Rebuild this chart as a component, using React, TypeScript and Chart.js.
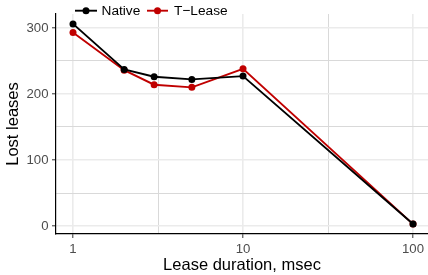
import React, { useEffect, useRef } from "react";
import { Chart, registerables } from "chart.js";

Chart.register(...registerables);

const durations = [1, 2, 3, 5, 10, 100];
const nativeLost = [306, 237, 226, 222, 227, 3];
const tleaseLost = [293, 236, 214, 210, 238, 3];
const seriesNames = ["Native", "T\u2212Lease"];
const seriesColors = ["#000000", "#c00000"];
const xTickValues = [1, 3.1623, 10, 31.623, 100];
const xMajorLabels = [1, 10, 100];
const yTickValues = [0, 50, 100, 150, 200, 250, 300];
const yMajorLabels = [0, 100, 200, 300];

const FONT = "'Liberation Sans', Arial, Helvetica, sans-serif";

const isMajorX = (v: number) => xMajorLabels.some((m) => Math.abs(m - v) < 1e-6);
const isMajorY = (v: number) => yMajorLabels.includes(v);

const legendPlugin = {
  id: "ggLegend",
  afterDraw(chart: any) {
    const ctx = chart.ctx;
    ctx.save();
    const y = 10.7;
    const items = [
      { x0: 75, x1: 97, tx: 101.5 },
      { x0: 147, x1: 168, tx: 174 },
    ];
    items.forEach((it, i) => {
      ctx.strokeStyle = seriesColors[i];
      ctx.fillStyle = seriesColors[i];
      ctx.lineWidth = 1.9;
      ctx.beginPath();
      ctx.moveTo(it.x0, y);
      ctx.lineTo(it.x1, y);
      ctx.stroke();
      ctx.beginPath();
      ctx.arc((it.x0 + it.x1) / 2, y, 3.5, 0, Math.PI * 2);
      ctx.fill();
      ctx.fillStyle = "#000000";
      ctx.font = `13.7px ${FONT}`;
      ctx.textBaseline = "middle";
      ctx.textAlign = "left";
      ctx.fillText(seriesNames[i], it.tx, y + 0.3);
    });
    ctx.restore();
  },
};

export default function App() {
  const ref = useRef<HTMLCanvasElement | null>(null);
  useEffect(() => {
    if (!ref.current) return;
    const mk = (vals: number[], i: number) => ({
      label: seriesNames[i],
      data: durations.map((d, k) => ({ x: d, y: vals[k] })),
      borderColor: seriesColors[i],
      backgroundColor: seriesColors[i],
      pointBackgroundColor: seriesColors[i],
      pointBorderColor: seriesColors[i],
      borderWidth: 1.9,
      pointRadius: 3.5,
      pointBorderWidth: 0,
      tension: 0,
    });
    const chart = new Chart(ref.current, {
      type: "line",
      data: { datasets: [mk(nativeLost, 0), mk(tleaseLost, 1)] },
      options: {
        animation: false,
        responsive: false,
        maintainAspectRatio: false,
        layout: { autoPadding: false, padding: { top: 14, left: 0, right: 0, bottom: 0 } },
        plugins: { legend: { display: false }, tooltip: { enabled: false } },
        scales: {
          x: {
            type: "logarithmic",
            min: Math.pow(10, -0.1),
            max: Math.pow(10, 2.088),
            afterBuildTicks: (scale: any) => {
              scale.ticks = xTickValues.map((v) => ({ value: v }));
            },
            afterFit: (scale: any) => {
              scale.height = 41;
              scale.paddingLeft = 0;
              scale.paddingRight = 0;
            },
            ticks: {
              autoSkip: false,
              maxRotation: 0,
              padding: 3,
              color: "#4d4d4d",
              font: { family: FONT, size: 13.2 },
              callback: (v: any) => (isMajorX(Number(v)) ? String(Math.round(Number(v))) : ""),
            },
            grid: {
              color: (c: any) => (isMajorX(c.tick?.value) ? "#ebebeb" : "#d9d9d9"),
              lineWidth: (c: any) => (isMajorX(c.tick?.value) ? 1.6 : 1),
              tickColor: (c: any) => (isMajorX(c.tick?.value) ? "#333333" : "rgba(0,0,0,0)"),
              tickLength: 4,
              tickWidth: 1,
            },
            border: { display: true, color: "#000000", width: 1.2 },
            title: {
              display: true,
              text: "Lease duration, msec",
              color: "#000000",
              font: { family: FONT, size: 16.5 },
              padding: { top: 0, bottom: 0 },
            },
          },
          y: {
            type: "linear",
            min: -12,
            max: 321,
            afterBuildTicks: (scale: any) => {
              scale.ticks = yTickValues.map((v) => ({ value: v }));
            },
            afterFit: (scale: any) => {
              scale.width = 56;
              scale.paddingTop = 0;
              scale.paddingBottom = 0;
            },
            ticks: {
              autoSkip: false,
              padding: 3.5,
              color: "#4d4d4d",
              font: { family: FONT, size: 13.2 },
              callback: (v: any) => (isMajorY(Number(v)) ? String(v) : ""),
            },
            grid: {
              color: (c: any) => (isMajorY(c.tick?.value) ? "#ebebeb" : "#d9d9d9"),
              lineWidth: (c: any) => (isMajorY(c.tick?.value) ? 1.6 : 1),
              tickColor: (c: any) => (isMajorY(c.tick?.value) ? "#333333" : "rgba(0,0,0,0)"),
              tickLength: 4,
              tickWidth: 1,
            },
            border: { display: true, color: "#000000", width: 1.2 },
            title: {
              display: true,
              text: "Lost leases",
              color: "#000000",
              font: { family: FONT, size: 16.5 },
              padding: { top: 3.5, bottom: 0 },
            },
          },
        },
      },
      plugins: [legendPlugin],
    } as any);
    return () => chart.destroy();
  }, []);
  return (
    <div style={{ position: "absolute", left: 0, top: 0, width: 428, height: 275, background: "#ffffff" }}>
      <canvas ref={ref} width={428} height={275} style={{ width: 428, height: 275, display: "block" }} />
    </div>
  );
}
